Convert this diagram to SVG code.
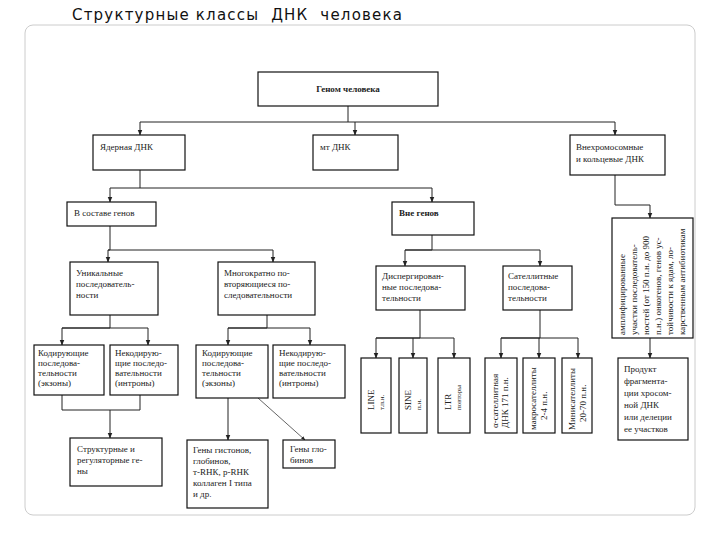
<svg xmlns="http://www.w3.org/2000/svg" width="720" height="540" viewBox="0 0 720 540">
<style>
.b{fill:#fff;stroke:#111;stroke-width:1.2}
.t{font-family:"Liberation Serif",serif;font-size:9px;fill:#222}
.l{fill:none;stroke:#222;stroke-width:1}
</style>
<defs><marker id="a" viewBox="0 0 10 10" refX="9" refY="5" markerWidth="6" markerHeight="6" orient="auto"><path d="M0,1L10,5L0,9z" fill="#222"/></marker></defs>
<rect width="720" height="540" fill="#fff"/>
<rect x="25" y="25" width="670" height="490" rx="8" fill="#fff" stroke="#ccc"/>
<text x="72" y="20" xml:space="preserve" style="font-family:'DejaVu Sans',sans-serif;font-size:15px;fill:#111;letter-spacing:1.2px">Структурные классы  ДНК  человека</text>
<g id="connectors" class="l">
<path d="M348,106V122H140V135" marker-end="url(#a)"/><path d="M355,122V135" marker-end="url(#a)"/><path d="M348,122H615V135" marker-end="url(#a)"/>
<path d="M140,170V188H110V202" marker-end="url(#a)"/><path d="M140,188H432V202" marker-end="url(#a)"/>
<path d="M615,175V205H650V218" marker-end="url(#a)"/>
<path d="M110,226V250H108V262" marker-end="url(#a)"/><path d="M108,250H273V262" marker-end="url(#a)"/>
<path d="M110,315V328H62V345" marker-end="url(#a)"/><path d="M62,328H148V345" marker-end="url(#a)"/>
<path d="M267,315V328H228V345" marker-end="url(#a)"/><path d="M228,328H310V345" marker-end="url(#a)"/>
<path d="M62,395V410H140V395M110,410V438" marker-end="url(#a)"/>
<path d="M228,398V440" marker-end="url(#a)"/><path d="M258,398L305,440" marker-end="url(#a)" stroke-width="0.7"/>
<path d="M432,235V250H405V266" marker-end="url(#a)"/><path d="M405,250H540V266" marker-end="url(#a)"/>
<path d="M420,310V338H376V358" marker-end="url(#a)"/><path d="M413,338V358" marker-end="url(#a)"/><path d="M376,338H454V358" marker-end="url(#a)"/>
<path d="M540,310V338H501V358" marker-end="url(#a)"/><path d="M539,338V358" marker-end="url(#a)"/><path d="M501,338H578V358" marker-end="url(#a)"/>
<path d="M650,338V358" marker-end="url(#a)"/>
</g>
<g id="n1"><rect class="b" x="258" y="72" width="180" height="34" stroke-width="1.5"/><text class="t" x="348" y="92" text-anchor="middle" font-weight="bold" font-size="11">Геном человека</text></g>
<g id="n2"><rect class="b" x="93" y="135" width="92" height="35"/><text class="t" x="100" y="150">Ядерная ДНК</text></g>
<g id="n3"><rect class="b" x="313" y="135" width="85" height="35"/><text class="t" x="320" y="150">мт ДНК</text></g>
<g id="n4"><rect class="b" x="570" y="135" width="95" height="40"/><text class="t" x="576" y="150">Внехромосомные</text><text class="t" x="576" y="162">и кольцевые ДНК</text></g>
<g id="n5"><rect class="b" x="67" y="202" width="89" height="24"/><text class="t" x="74" y="216">В составе генов</text></g>
<g id="n6"><rect class="b" x="392" y="202" width="82" height="33"/><text class="t" x="399" y="216" font-weight="bold">Вне генов</text></g>
<g id="n7"><rect class="b" x="612" y="218" width="81" height="120"/><text class="t" transform="translate(625,335) rotate(-90)" font-size="8.5"><tspan x="0" y="0">амплифицированные</tspan><tspan x="0" y="12">участки последователь-</tspan><tspan x="0" y="24">ностей (от 150 п.н. до 900</tspan><tspan x="0" y="36">п.н.) онкогенов, генов ус-</tspan><tspan x="0" y="48">тойчивости к ядам, ло-</tspan><tspan x="0" y="60">карственным антибиотикам</tspan></text></g>
<g id="n8"><rect class="b" x="70" y="262" width="88" height="53"/><text class="t"><tspan x="76" y="276">Уникальные</tspan><tspan x="76" dy="11">последователь-</tspan><tspan x="76" dy="11">ности</tspan></text></g>
<g id="n9"><rect class="b" x="218" y="262" width="97" height="53"/><text class="t"><tspan x="224" y="276">Многократно по-</tspan><tspan x="224" dy="11">вторяющиеся по-</tspan><tspan x="224" dy="11">следовательности</tspan></text></g>
<g id="n10"><rect class="b" x="376" y="266" width="89" height="44"/><text class="t"><tspan x="382" y="279">Диспергирован-</tspan><tspan x="382" dy="11">ные последова-</tspan><tspan x="382" dy="11">тельности</tspan></text></g>
<g id="n11"><rect class="b" x="503" y="266" width="69" height="44"/><text class="t"><tspan x="508" y="279">Сателлитные</tspan><tspan x="508" dy="11">последова-</tspan><tspan x="508" dy="11">тельности</tspan></text></g>
<g id="n12"><rect class="b" x="34" y="345" width="70" height="50"/><text class="t"><tspan x="38" y="356">Кодирующие</tspan><tspan x="38" dy="10">последова-</tspan><tspan x="38" dy="10">тельности</tspan><tspan x="38" dy="10">(экзоны)</tspan></text></g>
<g id="n13"><rect class="b" x="110" y="345" width="68" height="50"/><text class="t"><tspan x="115" y="356">Некодирую-</tspan><tspan x="115" dy="10">щие последо-</tspan><tspan x="115" dy="10">вательности</tspan><tspan x="115" dy="10">(интроны)</tspan></text></g>
<g id="n14"><rect class="b" x="196" y="345" width="72" height="53"/><text class="t"><tspan x="202" y="356">Кодирующие</tspan><tspan x="202" dy="10">последова-</tspan><tspan x="202" dy="10">тельности</tspan><tspan x="202" dy="10">(экзоны)</tspan></text></g>
<g id="n15"><rect class="b" x="273" y="345" width="72" height="53"/><text class="t"><tspan x="279" y="356">Некодирую-</tspan><tspan x="279" dy="10">щие последо-</tspan><tspan x="279" dy="10">вательности</tspan><tspan x="279" dy="10">(интроны)</tspan></text></g>
<g id="n16"><rect class="b" x="361" y="358" width="30" height="75"/><text class="t" transform="translate(374,410) rotate(-90)"><tspan x="0" y="0">LINE</tspan><tspan x="0" y="10" font-size="7">т.п.н.</tspan></text></g>
<g id="n17"><rect class="b" x="399" y="358" width="28" height="75"/><text class="t" transform="translate(411,410) rotate(-90)"><tspan x="0" y="0">SINE</tspan><tspan x="0" y="10" font-size="7">п.н.</tspan></text></g>
<g id="n18"><rect class="b" x="438" y="358" width="32" height="75"/><text class="t" transform="translate(451,410) rotate(-90)"><tspan x="0" y="0">LTR</tspan><tspan x="0" y="10" font-size="7">повторы</tspan></text></g>
<g id="n19"><rect class="b" x="485" y="358" width="32" height="75"/><text class="t" transform="translate(498,428) rotate(-90)" font-size="8"><tspan x="0" y="0">α-сателлитная</tspan><tspan x="0" y="10">ДНК 171 п.н.</tspan></text></g>
<g id="n20"><rect class="b" x="523" y="358" width="32" height="75"/><text class="t" transform="translate(536,430) rotate(-90)" font-size="8.5"><tspan x="0" y="0">макросателлиты</tspan><tspan x="10" y="11">2-4 п.н.</tspan></text></g>
<g id="n21"><rect class="b" x="562" y="358" width="30" height="75"/><text class="t" transform="translate(575,430) rotate(-90)" font-size="8.5"><tspan x="0" y="0">Минисателлиты</tspan><tspan x="8" y="11">20-70 п.н.</tspan></text></g>
<g id="n22"><rect class="b" x="618" y="358" width="70" height="82"/><text class="t"><tspan x="624" y="372">Продукт</tspan><tspan x="624" dy="12">фрагмента-</tspan><tspan x="624" dy="12">ции хросом-</tspan><tspan x="624" dy="12">ной ДНК</tspan><tspan x="624" dy="12">или делеции</tspan><tspan x="624" dy="12">ее участков</tspan></text></g>
<g id="n23"><rect class="b" x="70" y="438" width="92" height="48"/><text class="t"><tspan x="77" y="452">Структурные и</tspan><tspan x="77" dy="11">регуляторные ге-</tspan><tspan x="77" dy="11">ны</tspan></text></g>
<g id="n24"><rect class="b" x="187" y="440" width="81" height="68"/><text class="t"><tspan x="193" y="453">Гены гистонов,</tspan><tspan x="193" dy="11">глобинов,</tspan><tspan x="193" dy="11">т-RНК, р-RНК</tspan><tspan x="193" dy="11">коллаген I типа</tspan><tspan x="193" dy="11">и др.</tspan></text></g>
<g id="n25"><rect class="b" x="283" y="440" width="52" height="28"/><text class="t"><tspan x="290" y="452">Гены гло-</tspan><tspan x="290" dy="11">бинов</tspan></text></g>
</svg>
